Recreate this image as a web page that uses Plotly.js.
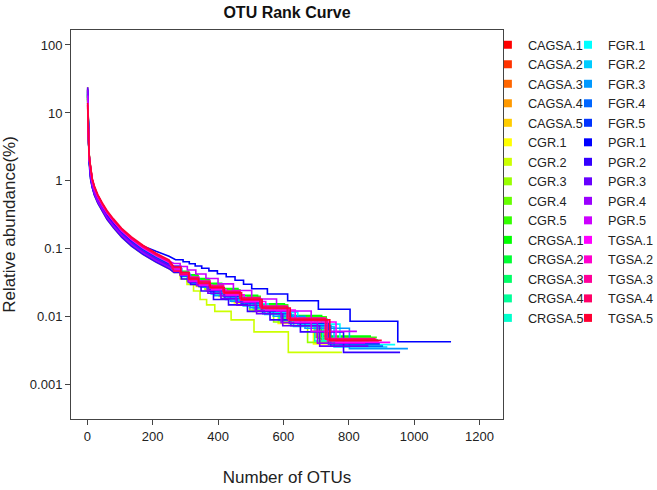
<!DOCTYPE html>
<html><head><meta charset="utf-8">
<script src="https://cdn.plot.ly/plotly-3.0.1.min.js"></script>
<style>html,body{margin:0;padding:0;background:#fff;}#chart{width:657px;height:490px;}</style>
</head><body><div id="chart"></div>
<script>
const seriesNames = ["CAGSA.1","CAGSA.2","CAGSA.3","CAGSA.4","CAGSA.5","CGR.1","CGR.2","CGR.3","CGR.4","CGR.5",
  "CRGSA.1","CRGSA.2","CRGSA.3","CRGSA.4","CRGSA.5","FGR.1","FGR.2","FGR.3","FGR.4","FGR.5",
  "PGR.1","PGR.2","PGR.3","PGR.4","PGR.5","TGSA.1","TGSA.2","TGSA.3","TGSA.4","TGSA.5"];
const seriesColors = ["#FF0000","#FF3300","#FF6600","#FF9900","#FFCC00","#FFFF00","#CCFF00","#99FF00","#66FF00","#33FF00",
  "#00FF00","#00FF33","#00FF66","#00FF99","#00FFCC","#00FFFF","#00CCFF","#0099FF","#0066FF","#0033FF",
  "#0000FF","#3300FF","#6600FF","#9900FF","#CC00FF","#FF00FF","#FF00CC","#FF0099","#FF0066","#FF0033"];

// OTU rank (head part, shared by all samples)
const headRanks = [1,2,3,4,5,7,10,15,22,32,45,60,80,105,135,170,210,250];
// relative abundance (%) at headRanks
const headValues = [
  [18,7.6,4.6,3.3,2.6,1.95,1.36,1.0,0.756,0.578,0.441,0.336,0.252,0.184,0.137,0.103,0.079,0.063],
  [16,7.2,4.4,3.2,2.5,1.85,1.3,0.95,0.72,0.55,0.42,0.32,0.24,0.175,0.13,0.098,0.075,0.06],
  [20,8.2,4.9,3.5,2.7,2.0,1.43,1.045,0.79,0.605,0.462,0.352,0.264,0.193,0.143,0.108,0.0825,0.066],
  [17,7.4,4.5,3.2,2.5,1.85,1.31,0.96,0.73,0.55,0.415,0.318,0.238,0.174,0.13,0.097,0.074,0.06],
  [19,7.8,4.6,3.2,2.5,1.8,1.24,0.9,0.684,0.52,0.4,0.304,0.228,0.166,0.124,0.093,0.071,0.057],
  [24,8.6,4.8,3.3,2.5,1.75,1.17,0.855,0.648,0.495,0.378,0.288,0.216,0.158,0.117,0.088,0.0675,0.054],
  [22,8.0,4.5,3.1,2.4,1.7,1.1,0.81,0.61,0.47,0.357,0.272,0.204,0.149,0.11,0.083,0.064,0.051],
  [21,8.1,4.7,3.3,2.5,1.8,1.24,0.9,0.684,0.52,0.4,0.304,0.228,0.166,0.124,0.093,0.071,0.057],
  [17,7.3,4.5,3.3,2.6,1.95,1.36,1.0,0.756,0.578,0.441,0.336,0.252,0.184,0.137,0.103,0.079,0.063],
  [15,7.0,4.4,3.2,2.6,1.95,1.37,1.01,0.76,0.58,0.44,0.335,0.25,0.183,0.136,0.102,0.078,0.062],
  [16,7.4,4.7,3.4,2.7,2.0,1.43,1.045,0.79,0.605,0.462,0.352,0.264,0.193,0.143,0.108,0.0825,0.066],
  [18,7.5,4.5,3.2,2.5,1.85,1.3,0.95,0.72,0.55,0.42,0.32,0.24,0.175,0.13,0.098,0.075,0.06],
  [19,7.7,4.6,3.2,2.5,1.85,1.29,0.94,0.715,0.545,0.418,0.318,0.239,0.174,0.129,0.097,0.074,0.059],
  [17,7.2,4.4,3.1,2.45,1.8,1.24,0.9,0.684,0.52,0.4,0.304,0.228,0.166,0.124,0.093,0.071,0.057],
  [18,7.6,4.6,3.3,2.55,1.9,1.3,0.95,0.72,0.55,0.42,0.32,0.24,0.175,0.13,0.098,0.075,0.06],
  [20,7.9,4.6,3.2,2.5,1.8,1.24,0.9,0.684,0.52,0.4,0.304,0.228,0.166,0.124,0.093,0.071,0.057],
  [21,8.0,4.6,3.2,2.45,1.75,1.17,0.855,0.648,0.495,0.378,0.288,0.216,0.158,0.117,0.088,0.0675,0.054],
  [19,7.6,4.5,3.1,2.4,1.72,1.16,0.85,0.645,0.49,0.375,0.286,0.214,0.157,0.116,0.087,0.067,0.054],
  [18,7.4,4.5,3.2,2.45,1.8,1.24,0.9,0.684,0.52,0.4,0.304,0.228,0.166,0.124,0.093,0.071,0.057],
  [20,7.9,4.7,3.3,2.55,1.9,1.3,0.95,0.72,0.55,0.42,0.32,0.24,0.175,0.13,0.098,0.075,0.06],
  [22,7.0,4.0,2.8,2.1,1.5,1.05,0.8,0.62,0.5,0.4,0.31,0.24,0.18,0.135,0.11,0.092,0.078],
  [23,8.2,4.6,3.1,2.4,1.7,1.1,0.81,0.61,0.47,0.357,0.272,0.204,0.149,0.11,0.083,0.064,0.051],
  [24,8.4,4.7,3.2,2.45,1.75,1.2,0.88,0.67,0.51,0.395,0.3,0.226,0.165,0.123,0.092,0.071,0.057],
  [22,8.0,4.6,3.2,2.45,1.75,1.17,0.855,0.648,0.495,0.378,0.288,0.216,0.158,0.117,0.088,0.0675,0.054],
  [18,7.5,4.6,3.3,2.6,1.95,1.43,1.045,0.79,0.605,0.462,0.352,0.264,0.193,0.143,0.108,0.0825,0.066],
  [14,7.0,4.4,3.2,2.55,1.9,1.36,1.0,0.756,0.578,0.441,0.336,0.252,0.184,0.137,0.103,0.079,0.063],
  [13,6.8,4.4,3.3,2.6,1.95,1.43,1.045,0.79,0.605,0.462,0.352,0.264,0.193,0.143,0.108,0.0825,0.066],
  [12,6.6,4.3,3.2,2.6,1.95,1.42,1.04,0.785,0.6,0.46,0.35,0.262,0.191,0.142,0.107,0.082,0.065],
  [13,6.9,4.4,3.3,2.65,2.0,1.43,1.045,0.79,0.605,0.462,0.352,0.264,0.193,0.143,0.108,0.0825,0.066],
  [14,7.1,4.5,3.4,2.7,2.05,1.5,1.09,0.83,0.63,0.483,0.368,0.276,0.2,0.15,0.113,0.086,0.069]
];
// OTU rank where each low-abundance step begins (last value = number of OTUs)
const tailRanks = [
  [265,285,309,338,371,411,462,522,604,719,870],
  [265,285,308,336,369,408,458,517,597,710,858],
  [265,284,307,335,366,405,453,511,590,700,845],
  [265,285,310,339,373,414,465,526,609,726,880],
  [265,285,309,337,369,409,459,519,599,713,862],
  [265,284,307,333,365,403,450,507,584,692,835],
  [265,285,305,325,345,365,390,440,510,615,779],
  [265,283,305,330,360,397,442,497,570,674,810],
  [265,285,310,338,372,413,463,524,607,722,875],
  [265,285,310,339,374,415,467,529,613,731,886],
  [265,285,309,337,371,411,461,521,603,717,868],
  [265,284,308,335,368,407,456,515,594,705,852],
  [265,286,311,340,374,416,468,531,615,734,890],
  [265,284,307,334,366,404,452,509,587,696,840],
  [265,285,309,338,371,412,462,523,605,720,872],
  [265,287,314,346,383,429,485,553,644,773,942],
  [265,287,313,343,379,423,477,543,631,755,918],
  [265,289,317,351,390,438,498,569,666,802,981],
  [265,286,312,342,377,420,473,537,623,745,905],
  [265,286,311,341,375,418,470,533,618,738,895],
  [270,293,312,330,350,372,398,425,452,478,503,551,613,707,804,950,1113],
  [265,288,316,348,386,432,490,559,652,784,957],
  [265,285,308,336,369,409,458,518,598,711,860],
  [265,284,308,335,367,407,455,514,593,704,850],
  [265,284,306,332,363,400,447,503,579,685,825],
  [265,287,313,344,381,425,480,546,636,761,927],
  [266,287,312,341,376,417,468,529,612,728,880],
  [265,286,311,340,375,417,469,532,616,735,892],
  [265,285,310,339,373,415,466,528,612,730,885],
  [265,286,311,341,376,419,472,535,621,742,901]
];
// relative abundance (%) of each step
const tailValues = [
  [0.048,0.0432,0.0384,0.0336,0.0288,0.024,0.0192,0.0144,0.0096,0.0048,0.0048],
  [0.046,0.0414,0.0368,0.0322,0.0276,0.023,0.0184,0.0138,0.0092,0.0046,0.0046],
  [0.05,0.045,0.04,0.035,0.03,0.025,0.02,0.015,0.01,0.005,0.005],
  [0.047,0.0423,0.0376,0.0329,0.0282,0.0235,0.0188,0.0141,0.0094,0.0047,0.0047],
  [0.0528,0.044,0.0352,0.0308,0.0264,0.022,0.0176,0.0132,0.0088,0.0044,0.0044],
  [0.048,0.04,0.032,0.028,0.024,0.02,0.016,0.012,0.008,0.004,0.004],
  [0.045,0.036,0.03,0.024,0.018,0.015,0.012,0.009,0.006,0.003,0.003],
  [0.0504,0.042,0.0336,0.0294,0.0252,0.021,0.0168,0.0126,0.0084,0.0042,0.0042],
  [0.049,0.0441,0.0392,0.0343,0.0294,0.0245,0.0196,0.0147,0.0098,0.0049,0.0049],
  [0.05,0.045,0.04,0.035,0.03,0.025,0.02,0.015,0.01,0.005,0.005],
  [0.052,0.0468,0.0416,0.0364,0.0312,0.026,0.0208,0.0156,0.0104,0.0052,0.0052],
  [0.048,0.0432,0.0384,0.0336,0.0288,0.024,0.0192,0.0144,0.0096,0.0048,0.0048],
  [0.046,0.0414,0.0368,0.0322,0.0276,0.023,0.0184,0.0138,0.0092,0.0046,0.0046],
  [0.0528,0.044,0.0352,0.0308,0.0264,0.022,0.0176,0.0132,0.0088,0.0044,0.0044],
  [0.054,0.045,0.036,0.0315,0.027,0.0225,0.018,0.0135,0.009,0.0045,0.0045],
  [0.0468,0.039,0.0312,0.0273,0.0234,0.0195,0.0156,0.0117,0.0078,0.0039,0.0039],
  [0.054,0.0432,0.036,0.0288,0.0216,0.018,0.0144,0.0108,0.0072,0.0036,0.0036],
  [0.051,0.0408,0.034,0.0272,0.0204,0.017,0.0136,0.0102,0.0068,0.0034,0.0034],
  [0.0555,0.0444,0.037,0.0296,0.0222,0.0185,0.0148,0.0111,0.0074,0.0037,0.0037],
  [0.048,0.04,0.032,0.028,0.024,0.02,0.016,0.012,0.008,0.004,0.004],
  [0.069,0.0647,0.0603,0.056,0.0517,0.0474,0.0431,0.0388,0.0345,0.0302,0.0259,0.0216,0.0172,0.0129,0.0086,0.0043,0.0043],
  [0.045,0.036,0.03,0.024,0.018,0.015,0.012,0.009,0.006,0.003,0.003],
  [0.0555,0.0444,0.037,0.0296,0.0222,0.0185,0.0148,0.0111,0.0074,0.0037,0.0037],
  [0.0492,0.041,0.0328,0.0287,0.0246,0.0205,0.0164,0.0123,0.0082,0.0041,0.0041],
  [0.061,0.0549,0.0488,0.0427,0.0366,0.0305,0.0244,0.0183,0.0122,0.0061,0.0061],
  [0.0504,0.042,0.0336,0.0294,0.0252,0.021,0.0168,0.0126,0.0084,0.0042,0.0042],
  [0.048,0.0432,0.0384,0.0336,0.0288,0.024,0.0192,0.0144,0.0096,0.0048,0.0048],
  [0.0528,0.044,0.0352,0.0308,0.0264,0.022,0.0176,0.0132,0.0088,0.0044,0.0044],
  [0.047,0.0423,0.0376,0.0329,0.0282,0.0235,0.0188,0.0141,0.0094,0.0047,0.0047],
  [0.054,0.045,0.036,0.0315,0.027,0.0225,0.018,0.0135,0.009,0.0045,0.0045]
];
const xTickVals = [0,200,400,600,800,1000,1200];
const yTickVals = [0.001,0.01,0.1,1,10,100];
const yTickText = ["0.001","0.01","0.1","1","10","100"];

const FONT = "Liberation Sans, Arial, Helvetica, sans-serif";
const traces = [];
seriesNames.forEach((name, i) => {
  // head drawn as a smooth curve; tail drawn as steps (each level held until the next rank)
  const xs = headRanks.slice(), ys = headValues[i].slice();
  const tr = tailRanks[i], tv = tailValues[i];
  for (let k = 0; k < tr.length - 1; k++) {
    xs.push(tr[k], tr[k + 1]); ys.push(tv[k], tv[k]);
  }
  traces.push({
    type: "scatter", mode: "lines", name: name, legendgroup: name, showlegend: false,
    x: xs, y: ys,
    line: {color: seriesColors[i], width: 1.6},
    hoverinfo: "name+x+y"
  });
});
seriesNames.forEach((name, i) => {
  traces.push({
    type: "scatter", mode: "markers", name: name, legendgroup: name,
    legend: i < 15 ? "legend" : "legend2",
    x: [null], y: [null],
    marker: {symbol: "square", size: 8, color: seriesColors[i]}
  });
});

const legendBase = {
  font: {family: FONT, size: 12.7, color: "#222"},
  bgcolor: "rgba(0,0,0,0)", borderwidth: 0,
  xanchor: "left", yanchor: "top", y: 1.0, tracegroupgap: 0
};
const axisBase = {
  showgrid: false, zeroline: false, showline: true, mirror: true,
  linecolor: "#444", linewidth: 1, ticks: "outside", ticklen: 5, tickcolor: "#444",
  tickfont: {family: FONT, size: 13, color: "#222"}
};
const layout = {
  width: 657, height: 490,
  margin: {l: 71, r: 154, t: 30, b: 71, autoexpand: false},
  paper_bgcolor: "#fff", plot_bgcolor: "#fff",
  showlegend: true,
  title: {text: "<b>OTU Rank Curve</b>", font: {family: FONT, size: 16, color: "#111"},
          x: 0.5, xref: "paper", y: 1 - 12/490, yref: "container", yanchor: "middle"},
  xaxis: Object.assign({}, axisBase, {
    type: "linear", range: [-50, 1272], tickvals: xTickVals,
    title: {text: "Number of OTUs", font: {family: FONT, size: 17, color: "#222"}, standoff: 28}
  }),
  yaxis: Object.assign({}, axisBase, {
    type: "log", range: [-3.504, 2.2206], tickvals: yTickVals, ticktext: yTickText,
    title: {text: "Relative abundance(%)", font: {family: FONT, size: 17, color: "#222"}, standoff: 10}
  }),
  legend: Object.assign({}, legendBase, {x: 0.965}),
  legend2: Object.assign({}, legendBase, {x: 1.1505})
};
Plotly.newPlot("chart", traces, layout, {staticPlot: true, displayModeBar: false});
</script>
</body></html>
